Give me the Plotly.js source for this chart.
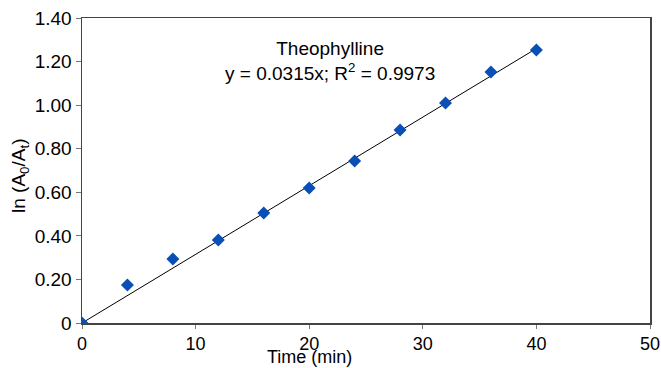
<!DOCTYPE html>
<html><head><meta charset="utf-8">
<script src="https://cdn.plot.ly/plotly-3.0.1.min.js"></script>
<style>body{margin:0;background:#fff}#c{width:661px;height:368px}</style>
</head><body><div id="c"></div>
<script>
const time = [0, 4, 8, 12, 16, 20, 24, 28, 32, 36, 40];
const lnRatio = [0, 0.174, 0.294, 0.381, 0.505, 0.620, 0.744, 0.886, 1.010, 1.152, 1.253];
const slope = 0.0315;
const fitX = [0, 40];
const fitY = fitX.map(x => slope * x);
const yTicks = [0, 0.2, 0.4, 0.6, 0.8, 1.0, 1.2, 1.4];
const yTickText = ["0", "0.20", "0.40", "0.60", "0.80", "1.00", "1.20", "1.40"];
const xTicks = [0, 10, 20, 30, 40, 50];

const font = "Liberation Sans, Arial, sans-serif";
Plotly.newPlot("c", [
  {x: fitX, y: fitY, mode: "lines", line: {color: "#000", width: 1}, hoverinfo: "skip"},
  {x: time, y: lnRatio, mode: "markers", marker: {symbol: "diamond", size: 10, color: "#0a4fb5"}}
], {
  width: 661, height: 368,
  margin: {l: 82, r: 11, t: 18, b: 45},
  showlegend: false,
  paper_bgcolor: "#fff", plot_bgcolor: "#fff",
  font: {family: font, size: 19, color: "#000"},
  xaxis: {range: [0, 50], tickvals: xTicks, showgrid: false, zeroline: false,
    showline: true, linecolor: "#444", linewidth: 1.5, mirror: true,
    ticks: "outside", ticklen: 4, tickcolor: "#777",
    tickfont: {size: 18}, ticklabelstandoff: 0},
  yaxis: {range: [0, 1.4], tickvals: yTicks, ticktext: yTickText, showgrid: false, zeroline: false,
    showline: true, linecolor: "#444", linewidth: 1.5, mirror: true,
    ticks: "outside", ticklen: 5, tickcolor: "#777",
    tickfont: {size: 19}},
  annotations: [
    {text: "Theophylline<br>y = 0.0315x; R<sup>2</sup> = 0.9973", x: 21.8, y: 1.203, xref: "x", yref: "y",
     xanchor: "center", yanchor: "middle", showarrow: false, font: {size: 19, family: font}, align: "center"},
    {text: "Time (min)", xref: "paper", yref: "paper", x: (309 - 82) / 568, y: (323 - 357) / 305,
     xanchor: "center", yanchor: "middle", showarrow: false, font: {size: 18, family: font}},
    {text: "ln (A<sub>0</sub>/A<sub>t</sub>)", xref: "paper", yref: "paper", x: (20 - 82) / 568, y: (323 - 176) / 305,
     xanchor: "center", yanchor: "middle", textangle: -90, showarrow: false, font: {size: 19, family: font}}
  ]
}, {displayModeBar: false, staticPlot: true});
</script></body></html>
